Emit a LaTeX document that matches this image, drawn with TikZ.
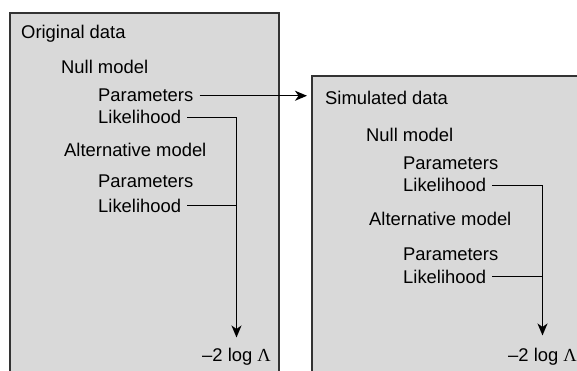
\documentclass[tikz,border=0pt]{standalone}
\usepackage{fontspec}
\setmainfont{Liberation Sans}
\newfontfamily\lamfont{Liberation Serif}
\usetikzlibrary{arrows.meta}
\begin{document}
\begin{tikzpicture}[x=1pt,y=-1pt,
  lbl/.style={anchor=base west,inner sep=0pt,font=\fontsize{18.4}{22}\selectfont},
  panel/.style={fill=gray!30!white,draw=none},
  edge/.style={draw=black!80,line width=1.6pt},
  conn/.style={line width=1.4pt,shorten <=6pt},
  tip/.style={-{Stealth[length=12pt,width=10pt,inset=3.5pt]}}
]
\useasboundingbox (0,0) rectangle (577,371);
% panels
\fill[panel] (10,371) rectangle (279,13);
\draw[edge] (10,372) -- (10,13) -- (279,13) -- (279,372);
\fill[panel] (312,371) rectangle (578,76);
\draw[edge] (312,372) -- (312,76) -- (579,76);
% left panel texts
\node[lbl] (orig) at (21,39) {Original data};
\node[lbl] (null1) at (61,74) {Null model};
\node[lbl] (par1) at (98,102) {Parameters};
\node[lbl] (lik1) at (98,124) {Likelihood};
\node[lbl] (alt1) at (64,157) {Alternative model};
\node[lbl] (par2) at (98,188) {Parameters};
\node[lbl] (lik2) at (98,212) {Likelihood};
\node[lbl] (res1) at (202,361) {–2 log {\lamfont Λ}};
% right panel texts
\node[lbl] (sim) at (325,105) {Simulated data};
\node[lbl] (null2) at (366,142) {Null model};
\node[lbl] (par3) at (403,170) {Parameters};
\node[lbl] (lik3) at (403,192) {Likelihood};
\node[lbl] (alt2) at (369,225) {Alternative model};
\node[lbl] (par4) at (403,260) {Parameters};
\node[lbl] (lik4) at (403,283) {Likelihood};
\node[lbl] (res2) at (508,361) {–2 log {\lamfont Λ}};
% connectors
\draw[conn,tip,shorten >=18pt] (par1.east) -- (par1.east -| sim.west);
\draw[conn,tip,shorten >=10pt] (lik1.east) -| (res1.north);
\draw[conn] (lik2.east) -- (lik2.east -| res1.north);
\draw[conn,tip,shorten >=12pt] (lik3.east) -| (res2.north);
\draw[conn] (lik4.east) -- (lik4.east -| res2.north);
\end{tikzpicture}
\end{document}
